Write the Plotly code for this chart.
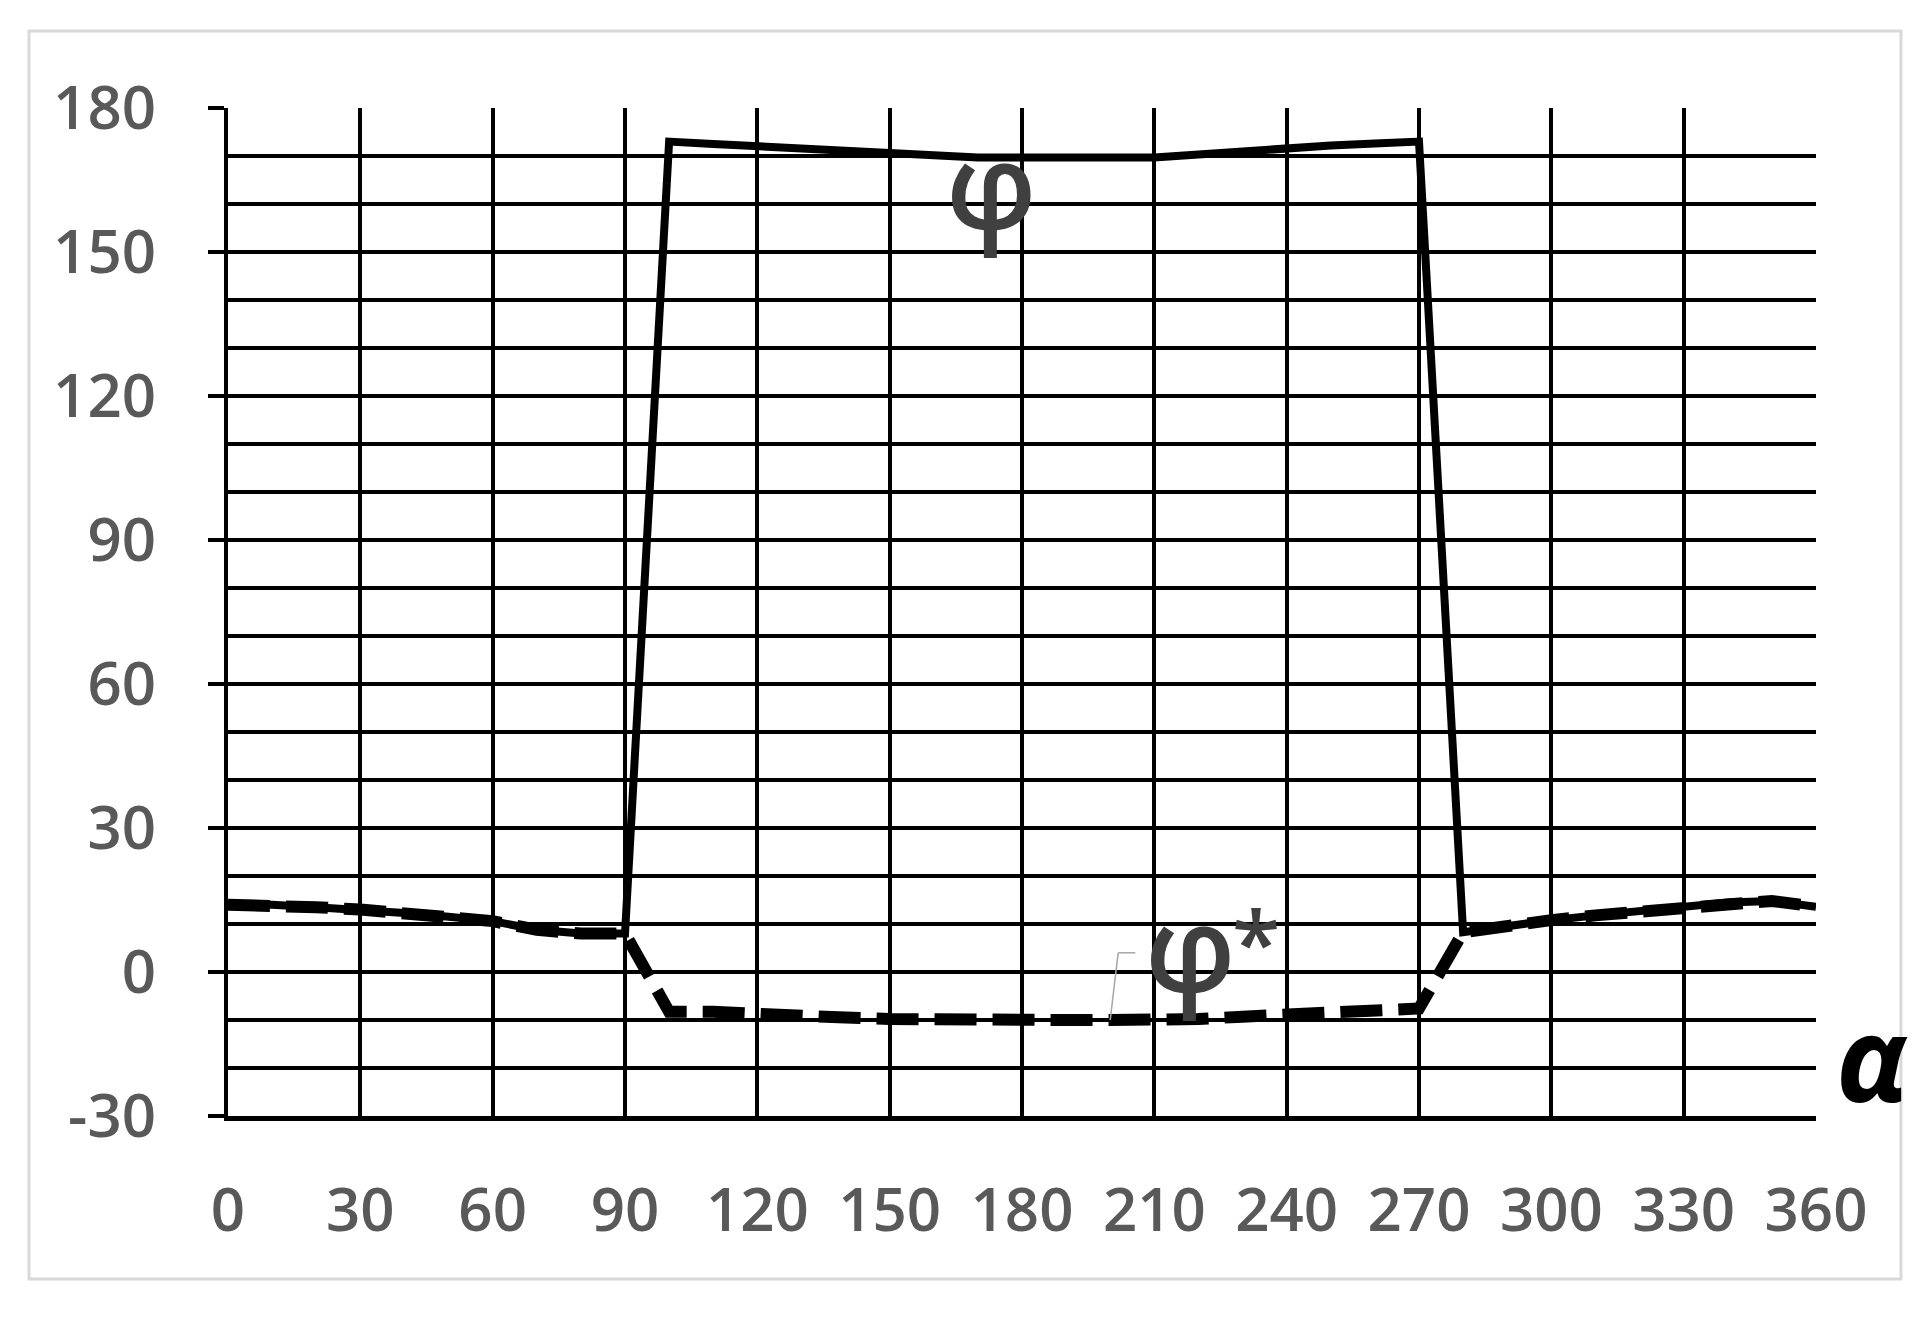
import plotly.graph_objects as go

# angle alpha, degrees
alpha = [0, 10, 20, 30, 40, 50, 60, 70, 80, 90,
         100, 110, 120, 130, 140, 150, 160, 170, 180, 190,
         200, 210, 220, 230, 240, 250, 260, 270, 280, 290,
         300, 310, 320, 330, 340, 350, 360]

# solid curve
phi = [14.0, 14.0, 13.5, 13.0, 12.3, 11.5, 10.6, 8.8, 8.0, 8.0,
       173.0, 172.5, 172.0, 171.5, 171.0, 170.5, 170.0, 169.7, 169.7, 169.7,
       169.7, 169.7, 170.3, 171.0, 171.7, 172.2, 172.6, 173.0, 8.3, 9.7,
       10.8, 11.8, 12.7, 13.6, 14.5, 14.8, 13.6]

# dashed curve
phi_star = [14.0, 14.0, 13.5, 13.0, 12.3, 11.5, 10.6, 8.8, 8.0, 8.0,
            -8.3, -8.3, -8.5, -9.0, -9.5, -9.8, -10.0, -10.0, -10.0, -10.0,
            -10.0, -10.0, -9.8, -9.3, -9.0, -8.5, -8.0, -7.6, 8.3, 9.7,
            10.8, 11.8, 12.7, 13.6, 14.5, 14.8, 13.6]

x_ticks = [0, 30, 60, 90, 120, 150, 180, 210, 240, 270, 300, 330, 360]
y_ticks = [-30, 0, 30, 60, 90, 120, 150, 180]
y_labels = ["-30", "0", "30", "60", "90", "120", "150", "180"]

GRID = "black"
LABEL = "#595959"
tick_font = {"size": 60, "color": LABEL, "family": "Open Sans", "weight": 600}

fig = go.Figure()
fig.add_trace(go.Scatter(x=alpha, y=phi_star, mode="lines", name="Φ*",
                         line={"color": "black", "width": 12, "dash": "42px,16px"}))
fig.add_trace(go.Scatter(x=alpha, y=phi, mode="lines", name="Φ",
                         line={"color": "black", "width": 8}))

fig.update_layout(
    width=1931, height=1337,
    margin={"l": 228, "r": 115, "t": 108, "b": 221},
    paper_bgcolor="white", plot_bgcolor="white",
    showlegend=False,
    font={"family": "Open Sans", "color": LABEL},
)
fig.update_xaxes(
    range=[0, 360], tickvals=x_ticks,
    showgrid=True, gridcolor=GRID, gridwidth=4,
    zeroline=False, showline=True, linecolor="black", linewidth=5,
    ticks="", ticklabelstandoff=38, tickfont=tick_font,
)
fig.update_yaxes(
    range=[-30, 180], tickvals=y_ticks, ticktext=y_labels,
    showgrid=True, gridcolor=GRID, gridwidth=4,
    minor={"dtick": 10, "tick0": 0, "showgrid": True, "gridcolor": GRID, "gridwidth": 4, "ticks": ""},
    zeroline=False, showline=True, linecolor="black", linewidth=4,
    ticks="outside", ticklen=16, tickwidth=4, tickcolor="black", ticklabelstandoff=40,
    tickfont=tick_font,
)

# curve labels
phi_font = {"size": 120, "color": "#404040", "family": "Open Sans", "weight": 600}
fig.add_annotation(x=173, y=164.4, text="φ", showarrow=False, font=phi_font)
fig.add_annotation(x=218.3, y=5.5, text="φ", showarrow=False, font=phi_font)
fig.add_annotation(x=233.0, y=6.2, text="*", showarrow=False,
                   font={"size": 88, "color": "#404040", "family": "Open Sans", "weight": 600})
# leader line of the Φ* label
fig.add_shape(type="line", x0=205.7, y0=4, x1=201.8, y1=4,
              line={"color": "#a6a6a6", "width": 1.5})
fig.add_shape(type="line", x0=201.8, y0=4, x1=200, y1=-10,
              line={"color": "#a6a6a6", "width": 1.5})

# axis name
fig.add_annotation(xref="paper", yref="paper", x=1.059, y=-0.023, text="<b><i>α</i></b>",
                   showarrow=False, font={"size": 118, "color": "black", "family": "Open Sans"})

# light frame around the chart
fig.add_shape(type="rect", xref="paper", yref="paper",
              x0=-0.1253, x1=1.0535, y0=-0.1617, y1=1.0764,
              line={"color": "#d9d9d9", "width": 3}, layer="below")

fig.write_html("out.html", config={"displayModeBar": False},
               post_script="document.body.style.margin='0';document.body.style.overflow='hidden';")
